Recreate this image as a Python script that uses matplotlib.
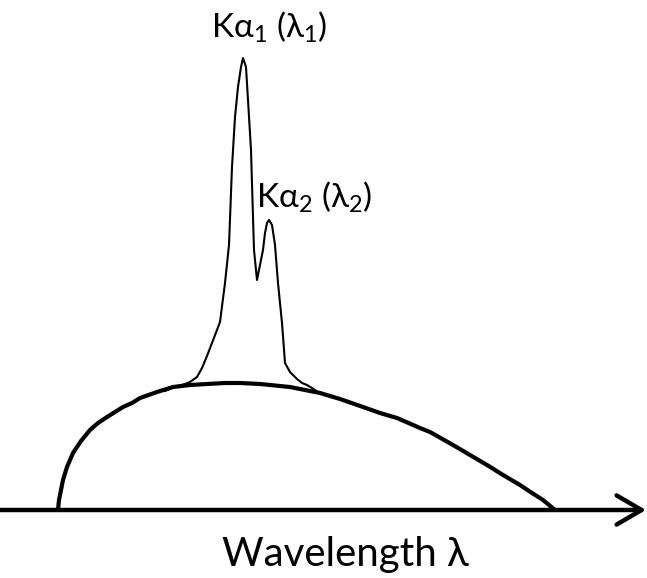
import numpy as np
import matplotlib
matplotlib.use("Agg")
import matplotlib.pyplot as plt

plt.rcParams['font.family'] = ['Lato', 'Open Sans', 'DejaVu Sans']
plt.rcParams['mathtext.fontset'] = 'custom'
plt.rcParams['mathtext.rm'] = 'Lato'

# wavelength axis runs 0..647, intensity measured up from the axis line
axis_len = 646

# continuous (bremsstrahlung) background
cont_x = [58, 59, 61, 63, 67, 73, 81, 90, 98, 107, 115, 123, 132, 140, 157, 173,
          190, 207, 225, 240, 260, 290, 320, 340, 363, 380, 397, 420, 430, 453,
          470, 487, 503, 520, 532, 543, 555]
cont_y = [0, 10, 20, 30, 43, 57, 69, 80, 87, 93, 98, 103, 107, 112, 118, 123,
          125, 126, 127, 127, 126, 123, 117, 111, 103, 97, 92, 82, 78, 65,
          55, 45, 35, 25, 17, 10, 0]

# characteristic K-alpha doublet riding on the background
peak_x = [165, 172, 178, 185, 190, 197, 202, 207, 212, 220, 225, 229, 232, 235,
          238, 241, 243, 246, 248, 251, 253, 254, 257, 263, 265, 267, 269, 272,
          275, 278, 282, 285, 290, 297, 302, 307, 312, 318]
peak_y = [119, 122, 124, 126, 128, 133, 142, 154, 167, 188, 227, 265, 343, 393,
          423, 443, 452, 443, 410, 360, 293, 260, 230, 260, 277, 287, 290, 285,
          265, 227, 187, 147, 138, 131, 127, 125, 122, 118]

labels = ['Kα$\\mathregular{_1}$ (λ$\\mathregular{_1}$)',
          'Kα$\\mathregular{_2}$ (λ$\\mathregular{_2}$)']
label_pos = [(211, 472), (256, 302)]
xlabel = 'Wavelength λ'

fig = plt.figure(figsize=(6.47, 5.78), dpi=100)
ax = fig.add_axes([0, 0, 1, 1])
ax.set_xlim(0, 647)
ax.set_ylim(-68, 510)
ax.axis('off')

ax.plot(cont_x, cont_y, color='black', lw=3.0, solid_joinstyle='round',
        solid_capstyle='round')
ax.plot(peak_x, peak_y, color='black', lw=1.5, solid_joinstyle='round')

ax.annotate('', xy=(axis_len, 0), xytext=(0, 0),
            arrowprops=dict(arrowstyle='->,head_length=0.6,head_width=0.35',
                            lw=3.2, color='black', mutation_scale=30,
                            shrinkA=0, shrinkB=0))

for lab, (lx, ly) in zip(labels, label_pos):
    ax.text(lx, ly, lab, fontsize=24, ha='left', va='baseline')

ax.text(345, -56, xlabel, fontsize=29, ha='center', va='baseline')

fig.savefig('out.png', dpi=100)
